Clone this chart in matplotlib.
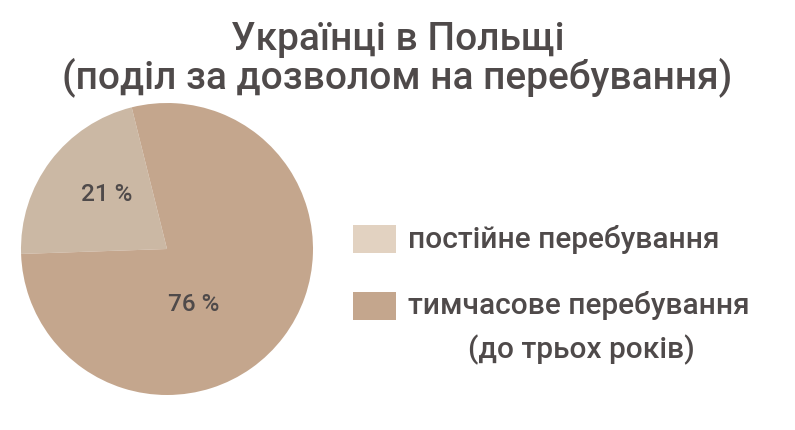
import matplotlib
matplotlib.use("Agg")
import matplotlib.pyplot as plt
from matplotlib.patches import Rectangle

plt.rcParams['font.family'] = ['Roboto', 'DejaVu Sans']
plt.rcParams['font.weight'] = 'medium'

# data
categories = ['постійне перебування', 'тимчасове перебування']
sublabels = ['', '(до трьох років)']
shares = [21, 76]
pct_labels = ['21 %', '76 %']

pie_colours = ['#cbb8a4', '#c4a68d']
legend_colours = ['#e2d2c1', '#c4a68d']
text_colour = '#4f4a4a'

fig = plt.figure(figsize=(7.95, 4.30), dpi=100)
fig.patch.set_facecolor('white')

ax = fig.add_axes([21 / 795, 35 / 430, 292 / 795, 292 / 430])
ax.pie(shares, colors=pie_colours, startangle=104, counterclock=True,
       radius=1, wedgeprops=dict(linewidth=0))
ax.set_xlim(-1, 1)
ax.set_ylim(-1, 1)
ax.set_aspect('equal')
ax.axis('off')

# percentage labels (placed like the original, not at slice middles)
label_pos = [(-0.41, 0.37), (0.18, -0.38)]
for (x, y), txt in zip(label_pos, pct_labels):
    ax.text(x, y, txt, ha='center', va='center', fontsize=17.5, color=text_colour)

fig.text(0.5, 1 - 59 / 430, 'Українці в Польщі\n(поділ за дозволом на перебування)',
         ha='center', va='center', fontsize=28, color=text_colour,
         linespacing=0.95, multialignment='center')

# legend drawn by hand so the second line can be centred
rows_y = [239, 306]
for i, (cat, sub) in enumerate(zip(categories, sublabels)):
    y = 1 - rows_y[i] / 430
    fig.patches.append(Rectangle((353 / 795, y - 14 / 430), 43 / 795, 28 / 430,
                                 transform=fig.transFigure, color=legend_colours[i],
                                 linewidth=0))
    fig.text(408 / 795, y, cat, ha='left', va='center', fontsize=21.5,
             color=text_colour)
    if sub:
        fig.text(581 / 795, y - 44 / 430, sub, ha='center', va='center',
                 fontsize=21.5, color=text_colour)

fig.savefig('out.png', dpi=100, facecolor='white')
